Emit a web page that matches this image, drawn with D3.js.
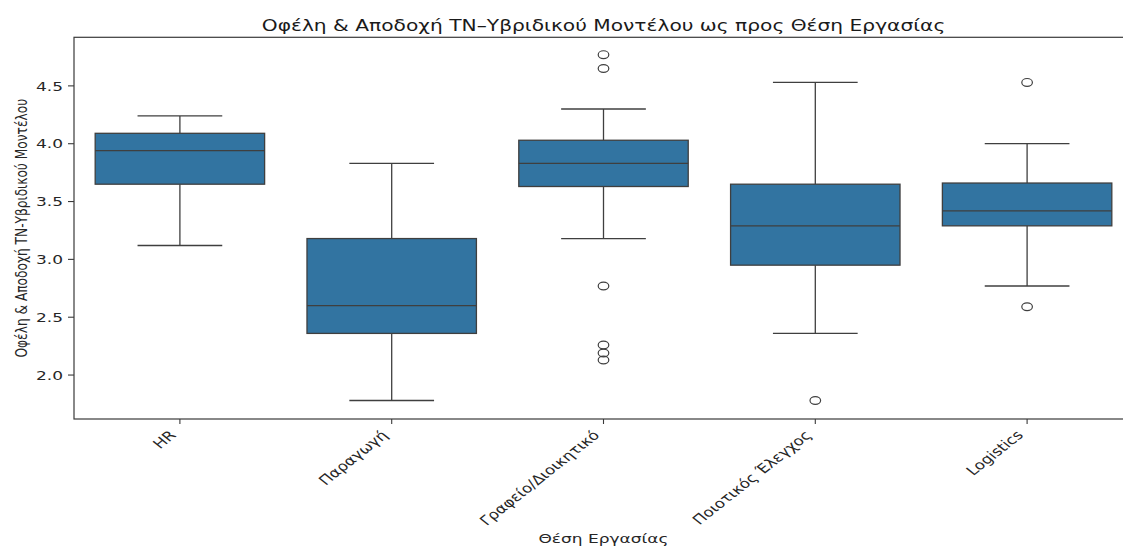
<!DOCTYPE html>
<html>
<head>
<meta charset="utf-8">
<script src="https://cdn.jsdelivr.net/npm/d3@7"></script>
<style>
  html, body { margin: 0; padding: 0; background: #fff; }
  svg { display: block; font-family: "DejaVu Sans", sans-serif; }
</style>
</head>
<body>
<svg id="chart" width="1123" height="546"></svg>
<script>
// ---- data ----
const categories = ["HR", "Παραγωγή", "Γραφείο/Διοικητικό", "Ποιοτικός Έλεγχος", "Logistics"];
const whiskerLow  = [3.12, 1.78, 3.18, 2.36, 2.77];
const q1          = [3.65, 2.36, 3.63, 2.95, 3.29];
const median      = [3.94, 2.60, 3.83, 3.29, 3.42];
const q3          = [4.09, 3.18, 4.03, 3.65, 3.66];
const whiskerHigh = [4.24, 3.83, 4.30, 4.53, 4.00];
const outliers    = [[], [], [4.77, 4.65, 2.77, 2.26, 2.19, 2.13], [1.78], [4.53, 2.59]];
const yTicks      = [2.0, 2.5, 3.0, 3.5, 4.0, 4.5];
const titleText   = "Οφέλη & Αποδοχή ΤΝ–Υβριδικού Μοντέλου ως προς Θέση Εργασίας";
const xLabelText  = "Θέση Εργασίας";
const yLabelText  = "Οφέλη & Αποδοχή ΤΝ-Υβριδικού Μοντέλου";

(function() {
// ---- layout ----
const svg = d3.select("#chart");
const mLeft = 74, mRight = 1133, mTop = 37.3, mBottom = 419;
const SX = 1.33; // horizontal stretch seen in the reference
const boxFill = "#3274a1", lineCol = "#3f3f3f", axisCol = "#3a3a3a";
const tickFont = 12.8;

const x = d3.scaleBand().domain(categories).range([mLeft, mRight]).padding(0);
const y = d3.scaleLinear().domain([1.62, 4.92]).range([mBottom, mTop]);

const rows = categories.map((c, i) => ({
  c, lo: whiskerLow[i], q1: q1[i], med: median[i], q3: q3[i], hi: whiskerHigh[i], out: outliers[i]
}));

const plot = svg.append("g");
const bw = x.bandwidth() * 0.8;
const cx = d => x(d.c) + x.bandwidth() / 2;

const g = plot.selectAll("g.box").data(rows).join("g").attr("class", "box");
// whiskers
g.append("line").attr("x1", cx).attr("x2", cx)
  .attr("y1", d => y(d.q3)).attr("y2", d => y(d.hi))
  .attr("stroke", lineCol).attr("stroke-width", 1.3);
g.append("line").attr("x1", cx).attr("x2", cx)
  .attr("y1", d => y(d.q1)).attr("y2", d => y(d.lo))
  .attr("stroke", lineCol).attr("stroke-width", 1.3);
// caps
g.append("line").attr("x1", d => cx(d) - bw / 4).attr("x2", d => cx(d) + bw / 4)
  .attr("y1", d => y(d.hi)).attr("y2", d => y(d.hi))
  .attr("stroke", lineCol).attr("stroke-width", 1.3);
g.append("line").attr("x1", d => cx(d) - bw / 4).attr("x2", d => cx(d) + bw / 4)
  .attr("y1", d => y(d.lo)).attr("y2", d => y(d.lo))
  .attr("stroke", lineCol).attr("stroke-width", 1.3);
// box
g.append("rect").attr("x", d => cx(d) - bw / 2).attr("width", bw)
  .attr("y", d => y(d.q3)).attr("height", d => y(d.q1) - y(d.q3))
  .attr("fill", boxFill).attr("stroke", lineCol).attr("stroke-width", 1.3);
// median
g.append("line").attr("x1", d => cx(d) - bw / 2).attr("x2", d => cx(d) + bw / 2)
  .attr("y1", d => y(d.med)).attr("y2", d => y(d.med))
  .attr("stroke", lineCol).attr("stroke-width", 1.3);
// fliers
g.each(function(d) {
  d3.select(this).selectAll("ellipse").data(d.out).join("ellipse")
    .attr("cx", cx(d)).attr("cy", v => y(v))
    .attr("rx", 5.3).attr("ry", 3.9)
    .attr("fill", "none").attr("stroke", lineCol).attr("stroke-width", 1.2);
});

// ---- axes frame ----
svg.append("rect").attr("x", mLeft).attr("y", mTop)
  .attr("width", mRight - mLeft).attr("height", mBottom - mTop)
  .attr("fill", "none").attr("stroke", axisCol).attr("stroke-width", 1.2);

// y ticks
const yt = svg.append("g").selectAll("g").data(yTicks).join("g");
yt.append("line").attr("x1", mLeft - 6).attr("x2", mLeft)
  .attr("y1", d => y(d)).attr("y2", d => y(d))
  .attr("stroke", axisCol).attr("stroke-width", 1.1);
yt.append("text")
  .attr("transform", d => `translate(${mLeft - 11},${y(d)}) scale(${SX},1)`)
  .attr("dy", "0.36em").attr("text-anchor", "end")
  .attr("font-size", tickFont).attr("fill", "#262626")
  .text(d => d.toFixed(1));

// x ticks
const xt = svg.append("g").selectAll("g").data(categories).join("g");
xt.append("line").attr("x1", d => x(d) + x.bandwidth() / 2).attr("x2", d => x(d) + x.bandwidth() / 2)
  .attr("y1", mBottom).attr("y2", mBottom + 5)
  .attr("stroke", axisCol).attr("stroke-width", 1.1);
xt.append("text")
  .attr("transform", d => `translate(${x(d) + x.bandwidth() / 2 - 3},${mBottom + 17}) scale(1.26,1) rotate(-45)`)
  .attr("text-anchor", "end")
  .attr("font-size", 13.2).attr("fill", "#262626")
  .text(d => d);

// title
svg.append("text")
  .attr("transform", `translate(${(mLeft + mRight) / 2},31) scale(${SX},1)`)
  .attr("text-anchor", "middle").attr("font-size", 15.2).attr("fill", "#1a1a1a")
  .text(titleText);

// x label
svg.append("text")
  .attr("transform", `translate(${(mLeft + mRight) / 2},543) scale(${SX},1)`)
  .attr("text-anchor", "middle").attr("font-size", tickFont).attr("fill", "#262626")
  .text(xLabelText);

// y label
svg.append("text")
  .attr("transform", `translate(27,${(mTop + mBottom) / 2}) scale(${SX},1) rotate(-90)`)
  .attr("text-anchor", "middle").attr("font-size", 12.2).attr("fill", "#262626")
  .text(yLabelText);
})();
</script>
</body>
</html>
